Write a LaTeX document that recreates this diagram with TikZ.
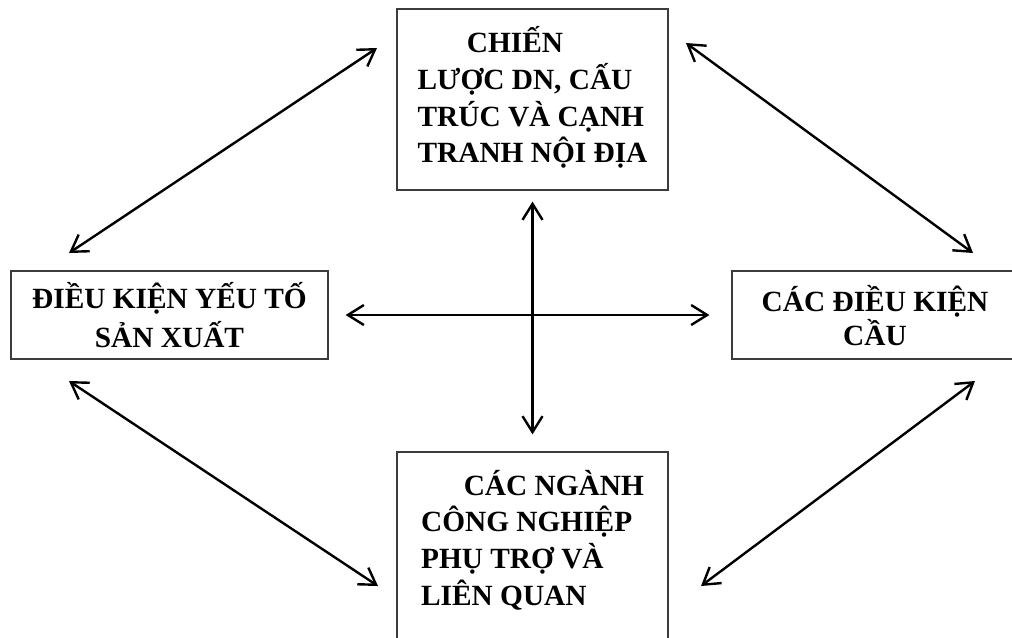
\documentclass[tikz,border=0pt]{standalone}
\usepackage{fontspec}
\setmainfont{Liberation Serif}
\usepackage{tikz}
\usetikzlibrary{arrows.meta,positioning}
\definecolor{Edge}{HTML}{3C3C3C}
\tikzset{
  panel/.style={draw=Edge,line width=0.9pt,inner ysep=0pt,
    font=\bfseries\fontsize{22}{27.5}\selectfont},
  panelwide/.style={panel,align=left,minimum width=203.25pt},
  panelflat/.style={panel,minimum height=66pt,align=center,
    font=\bfseries\fontsize{22}{29}\selectfont},
  biarrow/.style={{Straight Barb[length=12pt,width=15pt]}-{Straight Barb[length=12pt,width=15pt]},
    line width=1.8pt}
}

\begin{document}
\begin{tikzpicture}[x=0.75pt,y=-0.75pt]
  \useasboundingbox (0,0) rectangle (1012,637);
  \node[panelwide,minimum height=135.75pt] (strat)
    at (532.5,99.5) {\hspace*{37pt}CHIẾN\\LƯỢC DN, CẤU\\TRÚC VÀ CẠNH\\TRANH NỘI ĐỊA\rule[-7pt]{0pt}{0pt}};
  \node[panelflat,minimum width=237.75pt] (factor) at (169.5,315)
    {ĐIỀU KIỆN YẾU TỐ\\SẢN XUẤT};
  \node[panelflat,minimum width=214.5pt,font=\bfseries\fontsize{22}{25.5}\selectfont] (demand)
    at (875,315) {\rule{0pt}{20pt}CÁC ĐIỀU KIỆN\\CẦU};
  \node[panelwide,minimum height=142.5pt] (support)
    at (532.5,547) {\hspace*{32pt}CÁC NGÀNH\\CÔNG NGHIỆP\\PHỤ TRỢ VÀ\\LIÊN QUAN\rule[-14pt]{0pt}{0pt}};
  % diagonal arrows between the boxes
  \coordinate (ul-a) at (69,253);
  \coordinate (ul-b) at (377,48);
  \coordinate (ur-a) at (686,43);
  \coordinate (ur-b) at (973,253);
  \coordinate (ll-a) at (69,381);
  \coordinate (ll-b) at (378,586);
  \coordinate (lr-a) at (701,586);
  \coordinate (lr-b) at (975,381);
  \draw[biarrow] (ul-a) -- (ul-b);
  \draw[biarrow] (ur-a) -- (ur-b);
  \draw[biarrow] (ll-a) -- (ll-b);
  \draw[biarrow] (lr-a) -- (lr-b);
  % the cross in the middle
  \draw[biarrow,shorten <=8.25pt,shorten >=12.75pt] (strat.south) -- (support.north);
  \draw[biarrow,shorten <=12.75pt,shorten >=16.5pt] (factor.east) -- (demand.west);
\end{tikzpicture}
\end{document}
